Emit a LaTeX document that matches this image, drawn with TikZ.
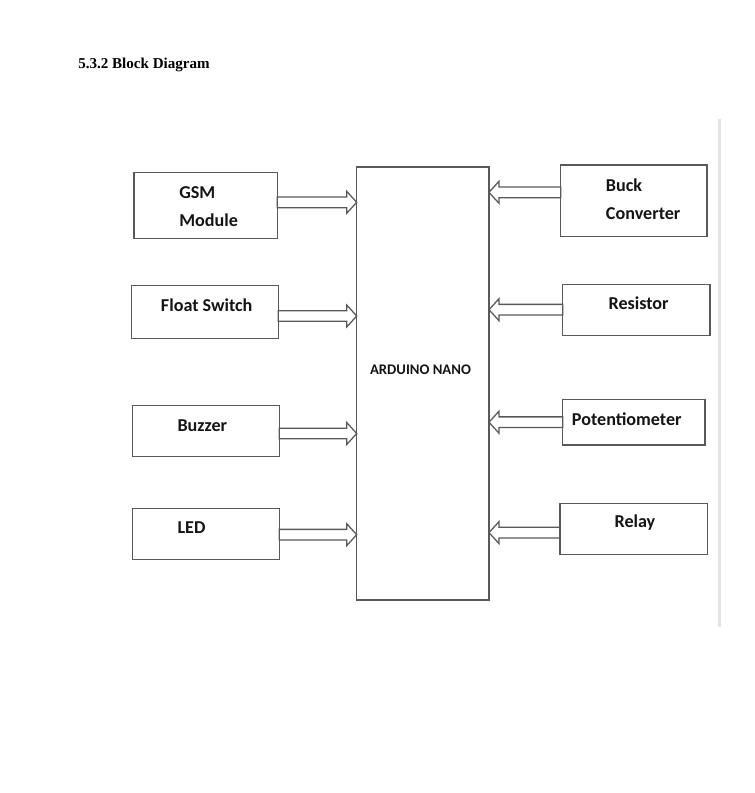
\documentclass[tikz,border=0pt]{standalone}
\usepackage{fontspec}
\setmainfont{Carlito}
\newfontfamily\titlefont{Liberation Serif}
\usetikzlibrary{calc}
\definecolor{edge}{HTML}{595959}
\definecolor{pagerule}{HTML}{E4E4E4}
\newcommand\pxbox[5]{\node[box, minimum width={(#4-#2)*0.75pt}, minimum height={(#5-#3)*0.75pt}] (#1) at ({(#2+#4)/2},{(#3+#5)/2}) {};}
\begin{document}
\begin{tikzpicture}[x=0.75pt,y=-0.75pt,
  box/.style={draw=edge, line width=1pt, inner sep=0pt, outer sep=0pt, rectangle},
  lbl/.style={inner sep=0pt, anchor=base west, text=black!92, font=\bfseries\fontsize{13.6}{20}\selectfont},
  blockarrow/.style={draw=edge, line width=0.95pt, line join=miter,
    to path={let \p1=(\tikztostart), \p2=(\tikztotarget),
      \p3=($(\tikztotarget)!7.5pt!(\tikztostart)$) in
      (\x1,\y1+4pt) -- (\x3,\y1+4pt) -- (\x3,\y1+8.25pt) -- (\x2,\y2)
      -- (\x3,\y1-8.25pt) -- (\x3,\y1-4pt) -- (\x1,\y1-4pt) -- cycle}}]
\useasboundingbox (0,0) rectangle (754,793);

% title
\node[inner sep=0pt, anchor=base west, font=\titlefont\bfseries\fontsize{11.3}{13}\selectfont] (title) at (78,68) {5.3.2 Block Diagram};

% page rule
\draw[pagerule, line width=2pt] (719.3,119) -- (719.3,626.7);

% boxes
\pxbox{gsm}{134}{172.7}{277.3}{238.3}
\pxbox{flt}{131.7}{285.7}{278.3}{338.3}
\pxbox{buz}{132.3}{405.7}{279.3}{456.7}
\pxbox{led}{132.3}{508.3}{279.3}{559.3}
\pxbox{ard}{356.7}{167}{489}{600}
\pxbox{buck}{560.7}{165}{707}{236.7}
\pxbox{res}{562.7}{284.3}{710}{335.7}
\pxbox{pot}{562.7}{399.3}{705}{445}
\pxbox{rel}{560}{503.3}{707.7}{554.3}

% labels
\node[lbl] (gsmA) at (179,198) {GSM};
\node[lbl] (gsmB) at (179,226.5) {Module};
\node[lbl] (fltT) at (160.7,311.5) {Float Switch};
\node[lbl] (buzT) at (177.3,431) {Buzzer};
\node[lbl] (ledT) at (177.3,533.3) {LED};
\node[lbl] (buckA) at (605.7,191.5) {Buck};
\node[lbl] (buckB) at (605.7,219.5) {Converter};
\node[lbl] (resT) at (608.3,309) {Resistor};
\node[lbl] (potT) at (571.7,425) {Potentiometer};
\node[lbl] (relT) at (614.3,527.3) {Relay};
\node[inner sep=0pt, anchor=base, text=black!92, font=\bfseries\fontsize{11}{13}\selectfont] (ardT) at (420.5,374) {ARDUINO NANO};

% arrows into Arduino
\draw[blockarrow] (gsm.east |- 0,202.3) to (ard.west |- 0,202.3);
\draw[blockarrow] (flt.east |- 0,316) to (ard.west |- 0,316);
\draw[blockarrow] (buz.east |- 0,433.5) to (ard.west |- 0,433.5);
\draw[blockarrow] (led.east |- 0,534.7) to (ard.west |- 0,534.7);
\draw[blockarrow] (buck.west |- 0,192.3) to (ard.east |- 0,192.3);
\draw[blockarrow] (res.west |- 0,309.7) to (ard.east |- 0,309.7);
\draw[blockarrow] (pot.west |- 0,422.2) to (ard.east |- 0,422.2);
\draw[blockarrow] (rel.west |- 0,532.6) to (ard.east |- 0,532.6);
\end{tikzpicture}
\end{document}
